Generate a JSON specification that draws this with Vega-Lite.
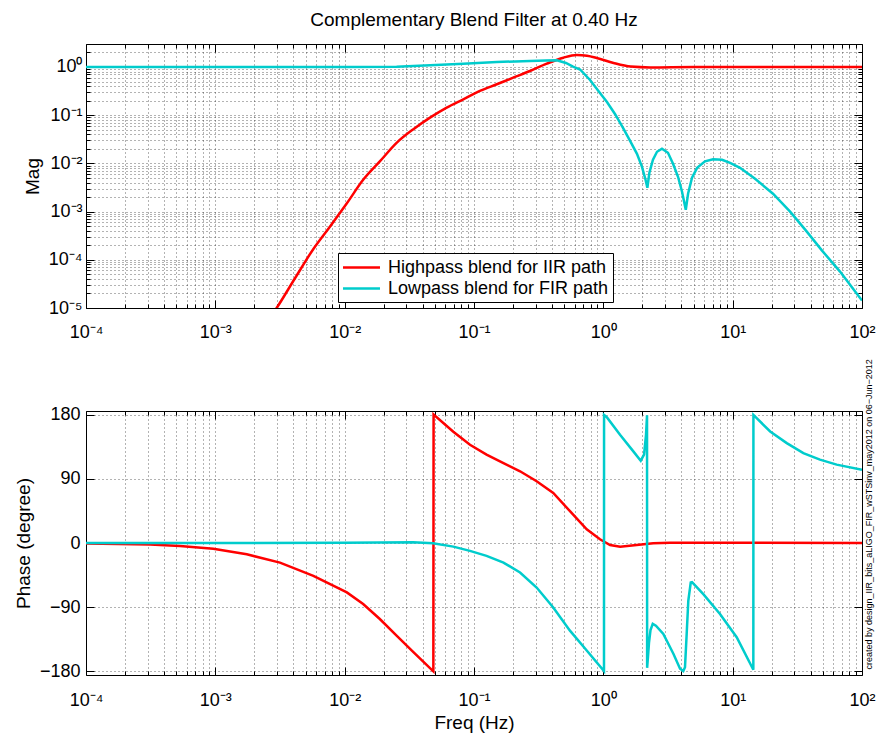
{
  "$schema": "https://vega.github.io/schema/vega-lite/v6.json",
  "background": "white",
  "padding": {"left": 13, "top": 10, "right": 5, "bottom": 5},
  "spacing": 103,
  "bounds": "flush",
  "config": {
    "font": "Liberation Sans",
    "view": {"stroke": "#000", "strokeWidth": 1},
    "axis": {
      "domain": false,
      "labelFont": "Liberation Sans",
      "labelFontSize": 18,
      "labelColor": "#000",
      "titleFont": "Liberation Sans",
      "titleFontSize": 19,
      "titleFontWeight": "normal",
      "titleColor": "#000",
      "tickColor": "#000",
      "gridColor": "#000",
      "gridDash": [1, 3],
      "gridOpacity": 0.6,
      "gridWidth": 1,
      "labelOverlap": false,
      "labelFlush": false,
      "labelBound": false
    },
    "title": {"font": "Liberation Sans", "fontSize": 19, "fontWeight": "normal", "color": "#000"}
  },
  "datasets": {
    "mag": [
      {"f": 0.0025, "mag": 0.000005, "series": "Highpass blend for IIR path"},
      {"f": 0.00298, "mag": 0.00001, "series": "Highpass blend for IIR path"},
      {"f": 0.00413, "mag": 0.0000414, "series": "Highpass blend for IIR path"},
      {"f": 0.00573, "mag": 0.000168, "series": "Highpass blend for IIR path"},
      {"f": 0.00771, "mag": 0.000492, "series": "Highpass blend for IIR path"},
      {"f": 0.0104, "mag": 0.00149, "series": "Highpass blend for IIR path"},
      {"f": 0.0139, "mag": 0.00457, "series": "Highpass blend for IIR path"},
      {"f": 0.0187, "mag": 0.011, "series": "Highpass blend for IIR path"},
      {"f": 0.0252, "mag": 0.0267, "series": "Highpass blend for IIR path"},
      {"f": 0.034, "mag": 0.0513, "series": "Highpass blend for IIR path"},
      {"f": 0.0457, "mag": 0.0891, "series": "Highpass blend for IIR path"},
      {"f": 0.0615, "mag": 0.144, "series": "Highpass blend for IIR path"},
      {"f": 0.0826, "mag": 0.214, "series": "Highpass blend for IIR path"},
      {"f": 0.111, "mag": 0.319, "series": "Highpass blend for IIR path"},
      {"f": 0.15, "mag": 0.438, "series": "Highpass blend for IIR path"},
      {"f": 0.201, "mag": 0.6, "series": "Highpass blend for IIR path"},
      {"f": 0.271, "mag": 0.826, "series": "Highpass blend for IIR path"},
      {"f": 0.365, "mag": 1.17, "series": "Highpass blend for IIR path"},
      {"f": 0.491, "mag": 1.56, "series": "Highpass blend for IIR path"},
      {"f": 0.622, "mag": 1.77, "series": "Highpass blend for IIR path"},
      {"f": 0.748, "mag": 1.71, "series": "Highpass blend for IIR path"},
      {"f": 0.889, "mag": 1.54, "series": "Highpass blend for IIR path"},
      {"f": 1.2, "mag": 1.21, "series": "Highpass blend for IIR path"},
      {"f": 1.63, "mag": 1.02, "series": "Highpass blend for IIR path"},
      {"f": 2.3, "mag": 0.98, "series": "Highpass blend for IIR path"},
      {"f": 5, "mag": 1.0, "series": "Highpass blend for IIR path"},
      {"f": 100, "mag": 1.0, "series": "Highpass blend for IIR path"},
      {"f": 0.0001, "mag": 1, "series": "Lowpass blend for FIR path"},
      {"f": 0.001, "mag": 1, "series": "Lowpass blend for FIR path"},
      {"f": 0.005, "mag": 1.0, "series": "Lowpass blend for FIR path"},
      {"f": 0.01, "mag": 1.005, "series": "Lowpass blend for FIR path"},
      {"f": 0.0252, "mag": 1.014, "series": "Lowpass blend for FIR path"},
      {"f": 0.0457, "mag": 1.084, "series": "Lowpass blend for FIR path"},
      {"f": 0.0826, "mag": 1.17, "series": "Lowpass blend for FIR path"},
      {"f": 0.15, "mag": 1.27, "series": "Lowpass blend for FIR path"},
      {"f": 0.271, "mag": 1.33, "series": "Lowpass blend for FIR path"},
      {"f": 0.36, "mag": 1.37, "series": "Lowpass blend for FIR path"},
      {"f": 0.437, "mag": 1.38, "series": "Lowpass blend for FIR path"},
      {"f": 0.514, "mag": 1.21, "series": "Lowpass blend for FIR path"},
      {"f": 0.583, "mag": 1.02, "series": "Lowpass blend for FIR path"},
      {"f": 0.661, "mag": 0.887, "series": "Lowpass blend for FIR path"},
      {"f": 0.789, "mag": 0.538, "series": "Lowpass blend for FIR path"},
      {"f": 0.942, "mag": 0.29, "series": "Lowpass blend for FIR path"},
      {"f": 1.067, "mag": 0.188, "series": "Lowpass blend for FIR path"},
      {"f": 1.23, "mag": 0.106, "series": "Lowpass blend for FIR path"},
      {"f": 1.42, "mag": 0.0546, "series": "Lowpass blend for FIR path"},
      {"f": 1.61, "mag": 0.0294, "series": "Lowpass blend for FIR path"},
      {"f": 1.82, "mag": 0.0158, "series": "Lowpass blend for FIR path"},
      {"f": 1.99, "mag": 0.0085, "series": "Lowpass blend for FIR path"},
      {"f": 2.12, "mag": 0.00457, "series": "Lowpass blend for FIR path"},
      {"f": 2.19, "mag": 0.00313, "series": "Lowpass blend for FIR path"},
      {"f": 2.27, "mag": 0.00639, "series": "Lowpass blend for FIR path"},
      {"f": 2.42, "mag": 0.0119, "series": "Lowpass blend for FIR path"},
      {"f": 2.6, "mag": 0.0174, "series": "Lowpass blend for FIR path"},
      {"f": 2.84, "mag": 0.0201, "series": "Lowpass blend for FIR path"},
      {"f": 3.16, "mag": 0.0166, "series": "Lowpass blend for FIR path"},
      {"f": 3.46, "mag": 0.0098, "series": "Lowpass blend for FIR path"},
      {"f": 3.78, "mag": 0.00528, "series": "Lowpass blend for FIR path"},
      {"f": 4.06, "mag": 0.00258, "series": "Lowpass blend for FIR path"},
      {"f": 4.34, "mag": 0.00109, "series": "Lowpass blend for FIR path"},
      {"f": 4.52, "mag": 0.00235, "series": "Lowpass blend for FIR path"},
      {"f": 4.85, "mag": 0.00503, "series": "Lowpass blend for FIR path"},
      {"f": 5.31, "mag": 0.0081, "series": "Lowpass blend for FIR path"},
      {"f": 6.11, "mag": 0.011, "series": "Lowpass blend for FIR path"},
      {"f": 7.05, "mag": 0.0122, "series": "Lowpass blend for FIR path"},
      {"f": 8.28, "mag": 0.0119, "series": "Lowpass blend for FIR path"},
      {"f": 9.55, "mag": 0.0103, "series": "Lowpass blend for FIR path"},
      {"f": 11.4, "mag": 0.0081, "series": "Lowpass blend for FIR path"},
      {"f": 14.9, "mag": 0.0048, "series": "Lowpass blend for FIR path"},
      {"f": 20.5, "mag": 0.00235, "series": "Lowpass blend for FIR path"},
      {"f": 27.8, "mag": 0.000995, "series": "Lowpass blend for FIR path"},
      {"f": 36.9, "mag": 0.000403, "series": "Lowpass blend for FIR path"},
      {"f": 49.1, "mag": 0.000155, "series": "Lowpass blend for FIR path"},
      {"f": 67.6, "mag": 0.000057, "series": "Lowpass blend for FIR path"},
      {"f": 100, "mag": 0.0000143, "series": "Lowpass blend for FIR path"}
    ],
    "phase": [
      {"f": 0.0001, "phase": -0.8, "series": "Highpass blend for IIR path"},
      {"f": 0.000313, "phase": -2, "series": "Highpass blend for IIR path"},
      {"f": 0.000533, "phase": -4.2, "series": "Highpass blend for IIR path"},
      {"f": 0.000964, "phase": -8, "series": "Highpass blend for IIR path"},
      {"f": 0.00175, "phase": -15.8, "series": "Highpass blend for IIR path"},
      {"f": 0.00316, "phase": -27.5, "series": "Highpass blend for IIR path"},
      {"f": 0.00573, "phase": -46, "series": "Highpass blend for IIR path"},
      {"f": 0.0104, "phase": -69.3, "series": "Highpass blend for IIR path"},
      {"f": 0.0139, "phase": -85.5, "series": "Highpass blend for IIR path"},
      {"f": 0.0187, "phase": -106.5, "series": "Highpass blend for IIR path"},
      {"f": 0.0252, "phase": -129.8, "series": "Highpass blend for IIR path"},
      {"f": 0.034, "phase": -153, "series": "Highpass blend for IIR path"},
      {"f": 0.0485, "phase": -180, "series": "Highpass blend for IIR path"},
      {"f": 0.0487, "phase": 180, "series": "Highpass blend for IIR path"},
      {"f": 0.0692, "phase": 156, "series": "Highpass blend for IIR path"},
      {"f": 0.0931, "phase": 137.7, "series": "Highpass blend for IIR path"},
      {"f": 0.125, "phase": 123.8, "series": "Highpass blend for IIR path"},
      {"f": 0.169, "phase": 112, "series": "Highpass blend for IIR path"},
      {"f": 0.227, "phase": 100.5, "series": "Highpass blend for IIR path"},
      {"f": 0.305, "phase": 86.5, "series": "Highpass blend for IIR path"},
      {"f": 0.41, "phase": 70.2, "series": "Highpass blend for IIR path"},
      {"f": 0.552, "phase": 44.6, "series": "Highpass blend for IIR path"},
      {"f": 0.744, "phase": 19.1, "series": "Highpass blend for IIR path"},
      {"f": 0.942, "phase": 5.2, "series": "Highpass blend for IIR path"},
      {"f": 1.127, "phase": -2.8, "series": "Highpass blend for IIR path"},
      {"f": 1.35, "phase": -5.1, "series": "Highpass blend for IIR path"},
      {"f": 1.81, "phase": -2.8, "series": "Highpass blend for IIR path"},
      {"f": 2.43, "phase": -0.5, "series": "Highpass blend for IIR path"},
      {"f": 3.28, "phase": 0.5, "series": "Highpass blend for IIR path"},
      {"f": 10, "phase": 0.3, "series": "Highpass blend for IIR path"},
      {"f": 100, "phase": 0, "series": "Highpass blend for IIR path"},
      {"f": 0.0001, "phase": 0, "series": "Lowpass blend for FIR path"},
      {"f": 0.001, "phase": 0, "series": "Lowpass blend for FIR path"},
      {"f": 0.01, "phase": 0.3, "series": "Lowpass blend for FIR path"},
      {"f": 0.0187, "phase": 0.8, "series": "Lowpass blend for FIR path"},
      {"f": 0.0337, "phase": 1.2, "series": "Lowpass blend for FIR path"},
      {"f": 0.0482, "phase": -0.5, "series": "Lowpass blend for FIR path"},
      {"f": 0.0692, "phase": -5.1, "series": "Lowpass blend for FIR path"},
      {"f": 0.0931, "phase": -11, "series": "Lowpass blend for FIR path"},
      {"f": 0.125, "phase": -18.1, "series": "Lowpass blend for FIR path"},
      {"f": 0.169, "phase": -27.5, "series": "Lowpass blend for FIR path"},
      {"f": 0.227, "phase": -41.4, "series": "Lowpass blend for FIR path"},
      {"f": 0.305, "phase": -62.4, "series": "Lowpass blend for FIR path"},
      {"f": 0.41, "phase": -90.3, "series": "Lowpass blend for FIR path"},
      {"f": 0.552, "phase": -122.8, "series": "Lowpass blend for FIR path"},
      {"f": 0.744, "phase": -150.7, "series": "Lowpass blend for FIR path"},
      {"f": 1.012, "phase": -179.5, "series": "Lowpass blend for FIR path"},
      {"f": 1.013, "phase": 179.5, "series": "Lowpass blend for FIR path"},
      {"f": 1.067, "phase": 176, "series": "Lowpass blend for FIR path"},
      {"f": 1.346, "phase": 151.7, "series": "Lowpass blend for FIR path"},
      {"f": 1.706, "phase": 128.4, "series": "Lowpass blend for FIR path"},
      {"f": 1.946, "phase": 115.4, "series": "Lowpass blend for FIR path"},
      {"f": 2.064, "phase": 123.8, "series": "Lowpass blend for FIR path"},
      {"f": 2.138, "phase": 151.7, "series": "Lowpass blend for FIR path"},
      {"f": 2.177, "phase": 179, "series": "Lowpass blend for FIR path"},
      {"f": 2.181, "phase": -175, "series": "Lowpass blend for FIR path"},
      {"f": 2.213, "phase": -160, "series": "Lowpass blend for FIR path"},
      {"f": 2.254, "phase": -140, "series": "Lowpass blend for FIR path"},
      {"f": 2.316, "phase": -122, "series": "Lowpass blend for FIR path"},
      {"f": 2.41, "phase": -113.4, "series": "Lowpass blend for FIR path"},
      {"f": 2.55, "phase": -116, "series": "Lowpass blend for FIR path"},
      {"f": 2.91, "phase": -127.4, "series": "Lowpass blend for FIR path"},
      {"f": 3.48, "phase": -155.3, "series": "Lowpass blend for FIR path"},
      {"f": 3.92, "phase": -176.2, "series": "Lowpass blend for FIR path"},
      {"f": 4.15, "phase": -179.5, "series": "Lowpass blend for FIR path"},
      {"f": 4.28, "phase": -174, "series": "Lowpass blend for FIR path"},
      {"f": 4.41, "phase": -127.4, "series": "Lowpass blend for FIR path"},
      {"f": 4.54, "phase": -80.9, "series": "Lowpass blend for FIR path"},
      {"f": 4.74, "phase": -55.4, "series": "Lowpass blend for FIR path"},
      {"f": 4.85, "phase": -55, "series": "Lowpass blend for FIR path"},
      {"f": 5.93, "phase": -71.6, "series": "Lowpass blend for FIR path"},
      {"f": 7.98, "phase": -99.5, "series": "Lowpass blend for FIR path"},
      {"f": 10.74, "phase": -132.1, "series": "Lowpass blend for FIR path"},
      {"f": 14.45, "phase": -177.6, "series": "Lowpass blend for FIR path"},
      {"f": 14.47, "phase": 179.5, "series": "Lowpass blend for FIR path"},
      {"f": 19.5, "phase": 156.3, "series": "Lowpass blend for FIR path"},
      {"f": 26.2, "phase": 140, "series": "Lowpass blend for FIR path"},
      {"f": 35.2, "phase": 126, "series": "Lowpass blend for FIR path"},
      {"f": 47.3, "phase": 116.8, "series": "Lowpass blend for FIR path"},
      {"f": 63.7, "phase": 109.8, "series": "Lowpass blend for FIR path"},
      {"f": 100, "phase": 102.5, "series": "Lowpass blend for FIR path"}
    ],
    "note": [
      {"note": "created by design_IIR_bits_aLIGO_FIR_wSTSinv_may2012 on 06−Jun−2012"}
    ]
  },
  "resolve": {"scale": {"color": "independent"}},
  "vconcat": [
    {
      "width": 776,
      "height": 264,
      "title": {"text": "Complementary Blend Filter at 0.40 Hz", "frame": "group", "anchor": "middle", "offset": 13},
      "layer": [
        {
          "data": {"name": "mag"},
          "transform": [{"filter": "datum.series == 'Highpass blend for IIR path'"}],
          "mark": {"type": "line", "strokeWidth": 2.5, "clip": true, "interpolate": "monotone"},
          "encoding": {
            "x": {
              "field": "f", "type": "quantitative",
              "scale": {"type": "log", "domain": [0.0001, 100], "nice": false},
              "axis": {
                "title": null,
                "values": [0.0001,0.0002,0.0003,0.0004,0.0005,0.0006,0.0007,0.0008,0.0009,0.001,0.002,0.003,0.004,0.005,0.006,0.007,0.008,0.009,0.01,0.02,0.03,0.04,0.05,0.06,0.07,0.08,0.09,0.1,0.2,0.3,0.4,0.5,0.6,0.7,0.8,0.9,1,2,3,4,5,6,7,8,9,10,20,30,40,50,60,70,80,90,100],
                "labelExpr": "datum.value == 0.0001 ? '10⁻⁴' : datum.value == 0.001 ? '10⁻³' : datum.value == 0.01 ? '10⁻²' : datum.value == 0.1 ? '10⁻¹' : datum.value == 1 ? '10⁰' : datum.value == 10 ? '10¹' : datum.value == 100 ? '10²' : ''",
                "grid": true,
                "tickSize": {"condition": {"test": "abs(log(datum.value)/LN10 - round(log(datum.value)/LN10)) < 0.000001", "value": -8}, "value": -4},
                "labelPadding": 23
              }
            },
            "y": {
              "field": "mag", "type": "quantitative",
              "scale": {"type": "log", "domain": [0.00001, 3], "nice": false},
              "axis": {
                "title": "Mag",
                "titlePadding": 6,
                "values": [0.00001,0.00002,0.00003,0.00004,0.00005,0.00006,0.00007,0.00008,0.00009,0.0001,0.0002,0.0003,0.0004,0.0005,0.0006,0.0007,0.0008,0.0009,0.001,0.002,0.003,0.004,0.005,0.006,0.007,0.008,0.009,0.01,0.02,0.03,0.04,0.05,0.06,0.07,0.08,0.09,0.1,0.2,0.3,0.4,0.5,0.6,0.7,0.8,0.9,1,2],
                "labelExpr": "datum.value == 0.00001 ? '10⁻⁵' : datum.value == 0.0001 ? '10⁻⁴' : datum.value == 0.001 ? '10⁻³' : datum.value == 0.01 ? '10⁻²' : datum.value == 0.1 ? '10⁻¹' : datum.value == 1 ? '10⁰' : ''",
                "grid": true,
                "tickSize": {"condition": {"test": "abs(log(datum.value)/LN10 - round(log(datum.value)/LN10)) < 0.000001", "value": -8}, "value": -4},
                "labelPadding": 12
              }
            },
            "color": {
              "field": "series", "type": "nominal",
              "scale": {"domain": ["Highpass blend for IIR path", "Lowpass blend for FIR path"], "range": ["#FF0000", "#00CCCC"]},
              "legend": {
                "orient": "none", "legendX": 252, "legendY": 209, "title": null,
                "symbolType": "M-2,0L2,0", "symbolStrokeWidth": 2.5, "symbolSize": 342, "symbolOffset": 9,
                "labelFontSize": 18, "labelFont": "Liberation Sans", "labelColor": "#000", "labelLimit": 400,
                "strokeColor": "#000", "fillColor": "#fff", "padding": 4, "rowPadding": 1, "labelOffset": 16
              }
            }
          }
        },
        {
          "data": {"name": "mag"},
          "transform": [{"filter": "datum.series == 'Lowpass blend for FIR path'"}],
          "mark": {"type": "line", "strokeWidth": 2.5, "clip": true},
          "encoding": {
            "x": {"field": "f", "type": "quantitative", "axis": null},
            "y": {"field": "mag", "type": "quantitative", "axis": null},
            "color": {"field": "series", "type": "nominal"}
          }
        },
        {
          "data": {"name": "mag"},
          "mark": {"type": "point", "opacity": 0, "clip": true},
          "encoding": {
            "x": {
              "field": "f", "type": "quantitative",
              "axis": {
                "orient": "top", "title": null, "labels": false, "grid": false,
                "values": [0.0001,0.0002,0.0003,0.0004,0.0005,0.0006,0.0007,0.0008,0.0009,0.001,0.002,0.003,0.004,0.005,0.006,0.007,0.008,0.009,0.01,0.02,0.03,0.04,0.05,0.06,0.07,0.08,0.09,0.1,0.2,0.3,0.4,0.5,0.6,0.7,0.8,0.9,1,2,3,4,5,6,7,8,9,10,20,30,40,50,60,70,80,90,100],
                "tickSize": {"condition": {"test": "abs(log(datum.value)/LN10 - round(log(datum.value)/LN10)) < 0.000001", "value": -8}, "value": -4}
              }
            },
            "y": {
              "field": "mag", "type": "quantitative",
              "axis": {
                "orient": "right", "title": null, "labels": false, "grid": false,
                "values": [0.00001,0.00002,0.00003,0.00004,0.00005,0.00006,0.00007,0.00008,0.00009,0.0001,0.0002,0.0003,0.0004,0.0005,0.0006,0.0007,0.0008,0.0009,0.001,0.002,0.003,0.004,0.005,0.006,0.007,0.008,0.009,0.01,0.02,0.03,0.04,0.05,0.06,0.07,0.08,0.09,0.1,0.2,0.3,0.4,0.5,0.6,0.7,0.8,0.9,1,2],
                "tickSize": {"condition": {"test": "abs(log(datum.value)/LN10 - round(log(datum.value)/LN10)) < 0.000001", "value": -8}, "value": -4}
              }
            }
          }
        }
      ],
      "resolve": {"axis": {"x": "independent", "y": "independent"}}
    },
    {
      "width": 776,
      "height": 264,
      "layer": [
        {
          "data": {"name": "phase"},
          "mark": {"type": "line", "strokeWidth": 2.5, "clip": true},
          "encoding": {
            "x": {
              "field": "f", "type": "quantitative",
              "scale": {"type": "log", "domain": [0.0001, 100], "nice": false},
              "axis": {
                "title": "Freq (Hz)",
                "titlePadding": 0,
                "values": [0.0001,0.0002,0.0003,0.0004,0.0005,0.0006,0.0007,0.0008,0.0009,0.001,0.002,0.003,0.004,0.005,0.006,0.007,0.008,0.009,0.01,0.02,0.03,0.04,0.05,0.06,0.07,0.08,0.09,0.1,0.2,0.3,0.4,0.5,0.6,0.7,0.8,0.9,1,2,3,4,5,6,7,8,9,10,20,30,40,50,60,70,80,90,100],
                "labelExpr": "datum.value == 0.0001 ? '10⁻⁴' : datum.value == 0.001 ? '10⁻³' : datum.value == 0.01 ? '10⁻²' : datum.value == 0.1 ? '10⁻¹' : datum.value == 1 ? '10⁰' : datum.value == 10 ? '10¹' : datum.value == 100 ? '10²' : ''",
                "grid": true,
                "tickSize": {"condition": {"test": "abs(log(datum.value)/LN10 - round(log(datum.value)/LN10)) < 0.000001", "value": -8}, "value": -4},
                "labelPadding": 24
              }
            },
            "y": {
              "field": "phase", "type": "quantitative",
              "scale": {"domain": [-185, 185], "nice": false, "zero": false},
              "axis": {
                "title": "Phase (degree)",
                "titlePadding": 6,
                "values": [-180, -90, 0, 90, 180],
                "grid": true,
                "tickSize": -8,
                "labelPadding": 14
              }
            },
            "color": {
              "field": "series", "type": "nominal",
              "scale": {"domain": ["Highpass blend for IIR path", "Lowpass blend for FIR path"], "range": ["#FF0000", "#00CCCC"]},
              "legend": null
            }
          }
        },
        {
          "data": {"name": "phase"},
          "mark": {"type": "point", "opacity": 0, "clip": true},
          "encoding": {
            "x": {
              "field": "f", "type": "quantitative",
              "axis": {
                "orient": "top", "title": null, "labels": false, "grid": false,
                "values": [0.0001,0.0002,0.0003,0.0004,0.0005,0.0006,0.0007,0.0008,0.0009,0.001,0.002,0.003,0.004,0.005,0.006,0.007,0.008,0.009,0.01,0.02,0.03,0.04,0.05,0.06,0.07,0.08,0.09,0.1,0.2,0.3,0.4,0.5,0.6,0.7,0.8,0.9,1,2,3,4,5,6,7,8,9,10,20,30,40,50,60,70,80,90,100],
                "tickSize": {"condition": {"test": "abs(log(datum.value)/LN10 - round(log(datum.value)/LN10)) < 0.000001", "value": -8}, "value": -4}
              }
            },
            "y": {
              "field": "phase", "type": "quantitative",
              "axis": {
                "orient": "right", "title": null, "labels": false, "grid": false,
                "values": [-180, -90, 0, 90, 180],
                "tickSize": -8
              }
            }
          }
        },
        {
          "data": {"name": "note"},
          "mark": {"type": "text", "angle": 270, "align": "left", "baseline": "alphabetic", "fontSize": 9, "dx": 2, "dy": 10, "font": "Liberation Sans", "color": "#000"},
          "encoding": {
            "x": {"datum": 100, "type": "quantitative", "axis": null},
            "y": {"datum": -180, "type": "quantitative", "axis": null},
            "text": {"field": "note"}
          }
        }
      ],
      "resolve": {"axis": {"x": "independent", "y": "independent"}}
    }
  ]
}
